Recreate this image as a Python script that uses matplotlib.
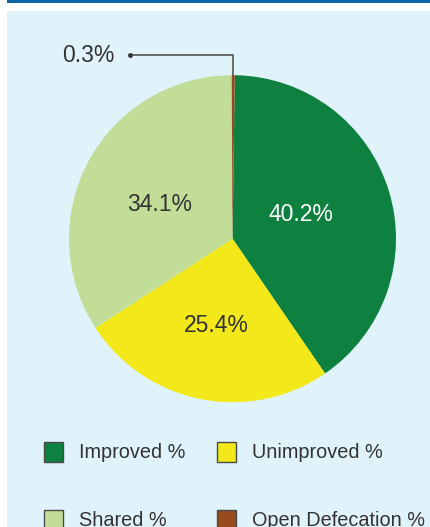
import numpy as np
import matplotlib
matplotlib.use("Agg")
import matplotlib.pyplot as plt
from matplotlib.patches import Rectangle

categories = ["Improved %", "Unimproved %", "Shared %", "Open Defecation %"]
values = [40.2, 25.4, 34.1, 0.3]
colors = ["#0e8040", "#f2e81a", "#c1dd97", "#964a20"]
label_colors = ["white", "#333333", "#333333", "#333333"]

plt.rcParams['font.family'] = ['Liberation Sans', 'DejaVu Sans']

W, H = 431, 527
fig = plt.figure(figsize=(W / 100, H / 100), dpi=100)
fig.patch.set_facecolor("white")
ax = fig.add_axes([0, 0, 1, 1])

# background panel and top bar
ax.add_patch(Rectangle((7, 0), W - 7, H - 11, facecolor="#e0f2fa", edgecolor="none", zorder=0))
ax.add_patch(Rectangle((7, H - 2.5), W - 7, 2.5, facecolor="#0a64a5", edgecolor="none", zorder=0))

cx, cy, R = 232.5, H - 238.7, 163.5
wedges, _ = ax.pie(values, colors=colors, startangle=89.2, counterclock=False,
                   center=(cx, cy), radius=R, frame=True,
                   wedgeprops=dict(linewidth=0))
ax.set_xlim(0, W)
ax.set_ylim(0, H)
ax.set_aspect("equal")
ax.axis("off")

# inside labels
dists = [0.45, 0.52, 0.50]
angle_shift = [5, 0, 1.5]
for i in range(3):
    w = wedges[i]
    mid = np.deg2rad((w.theta1 + w.theta2) / 2 + angle_shift[i])
    r = dists[i] * R
    ax.text(cx + r * np.cos(mid), cy + r * np.sin(mid) - 3, f"{values[i]:.1f}%",
            ha="center", va="center", fontsize=16.5, color=label_colors[i], zorder=5)

# small slice label with leader line
w = wedges[3]
mid = np.deg2rad((w.theta1 + w.theta2) / 2)
px, py = cx + R * np.cos(mid), cy + R * np.sin(mid)
ly = H - 55
lx = 130
ax.plot([lx, px, px], [ly, ly, py], color="#555555", lw=1.2, zorder=4)
ax.plot([lx], [ly], "o", color="#333333", ms=2.5, zorder=4)
ax.text(88, ly, f"{values[3]:.1f}%", ha="center", va="center",
        fontsize=16.5, color="#333333")

# legend
pos = [(44, H - 462), (217, H - 462), (44, H - 530), (217, H - 530)]
for i, (x0, y0) in enumerate(pos):
    ax.add_patch(Rectangle((x0, y0), 19.5, 20, facecolor=colors[i],
                           edgecolor="#4a4a4a", lw=1, zorder=5, clip_on=False))
    ax.text(x0 + 35, y0 + 10, categories[i], ha="left", va="center",
            fontsize=14.3, color="#333333")

fig.savefig("out.png", dpi=100)
